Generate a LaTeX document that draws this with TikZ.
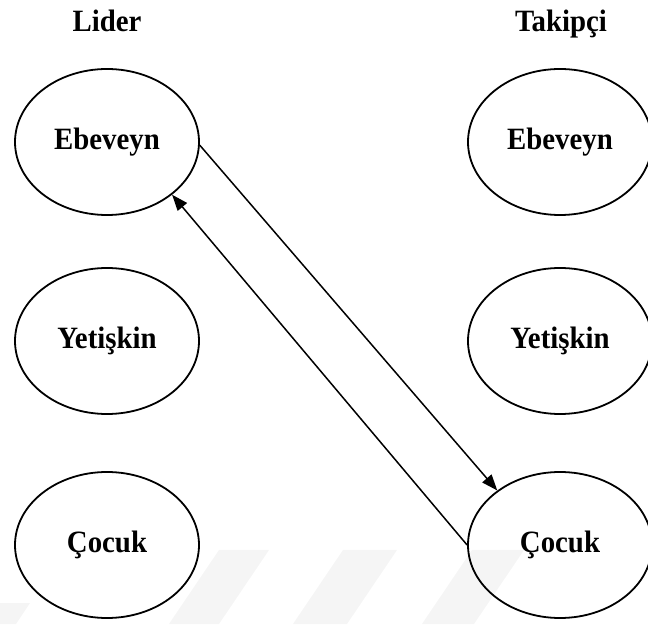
\documentclass[tikz,border=0pt]{standalone}
\usepackage{fontspec}
\setmainfont{Liberation Serif}[FakeStretch=0.93]
\usetikzlibrary{shapes.geometric,arrows.meta}
\begin{document}
\begin{tikzpicture}[x=1pt,y=1pt,
  role/.style={ellipse,draw,line width=1.8pt,minimum width=184pt,minimum height=146pt,inner sep=0pt,font=\fontsize{31}{31}\selectfont\bfseries},
  head/.style={anchor=base,font=\fontsize{31}{31}\selectfont\bfseries},
  conn/.style={line width=1.5pt,-{Triangle[length=16pt,width=12pt]}},
  wmark/.style={fill=black!4,draw=none}]
\useasboundingbox (0,0) rectangle (648,624);
\begin{scope}
\clip (0,0) rectangle (648,624);
\fill[wmark] (219,74) -- (269,74) -- (219,0) -- (169,0) -- cycle;
\fill[wmark] (343,74) -- (397,74) -- (347,0) -- (293,0) -- cycle;
\fill[wmark] (472,74) -- (524,74) -- (474,0) -- (422,0) -- cycle;
\fill[wmark] (0,21) -- (30,21) -- (16,0) -- (-14,0) -- cycle;
\end{scope}
\node[head] (lider) at (107,592) {Lider};
\node[head] (takipci) at (561,592) {Takipçi};
\node[role] (le) at (107,482) {Ebeveyn};
\node[role] (ly) at (107,283) {Yetişkin};
\node[role] (lc) at (107,79) {Çocuk};
\node[role] (re) at (560,482) {Ebeveyn};
\node[role] (ry) at (560,283) {Yetişkin};
\node[role] (rc) at (560,79) {Çocuk};
\draw[conn] (le.-2) -- (rc.139);
\draw[conn] (rc.180) -- (le.-39);
\end{tikzpicture}
\end{document}
